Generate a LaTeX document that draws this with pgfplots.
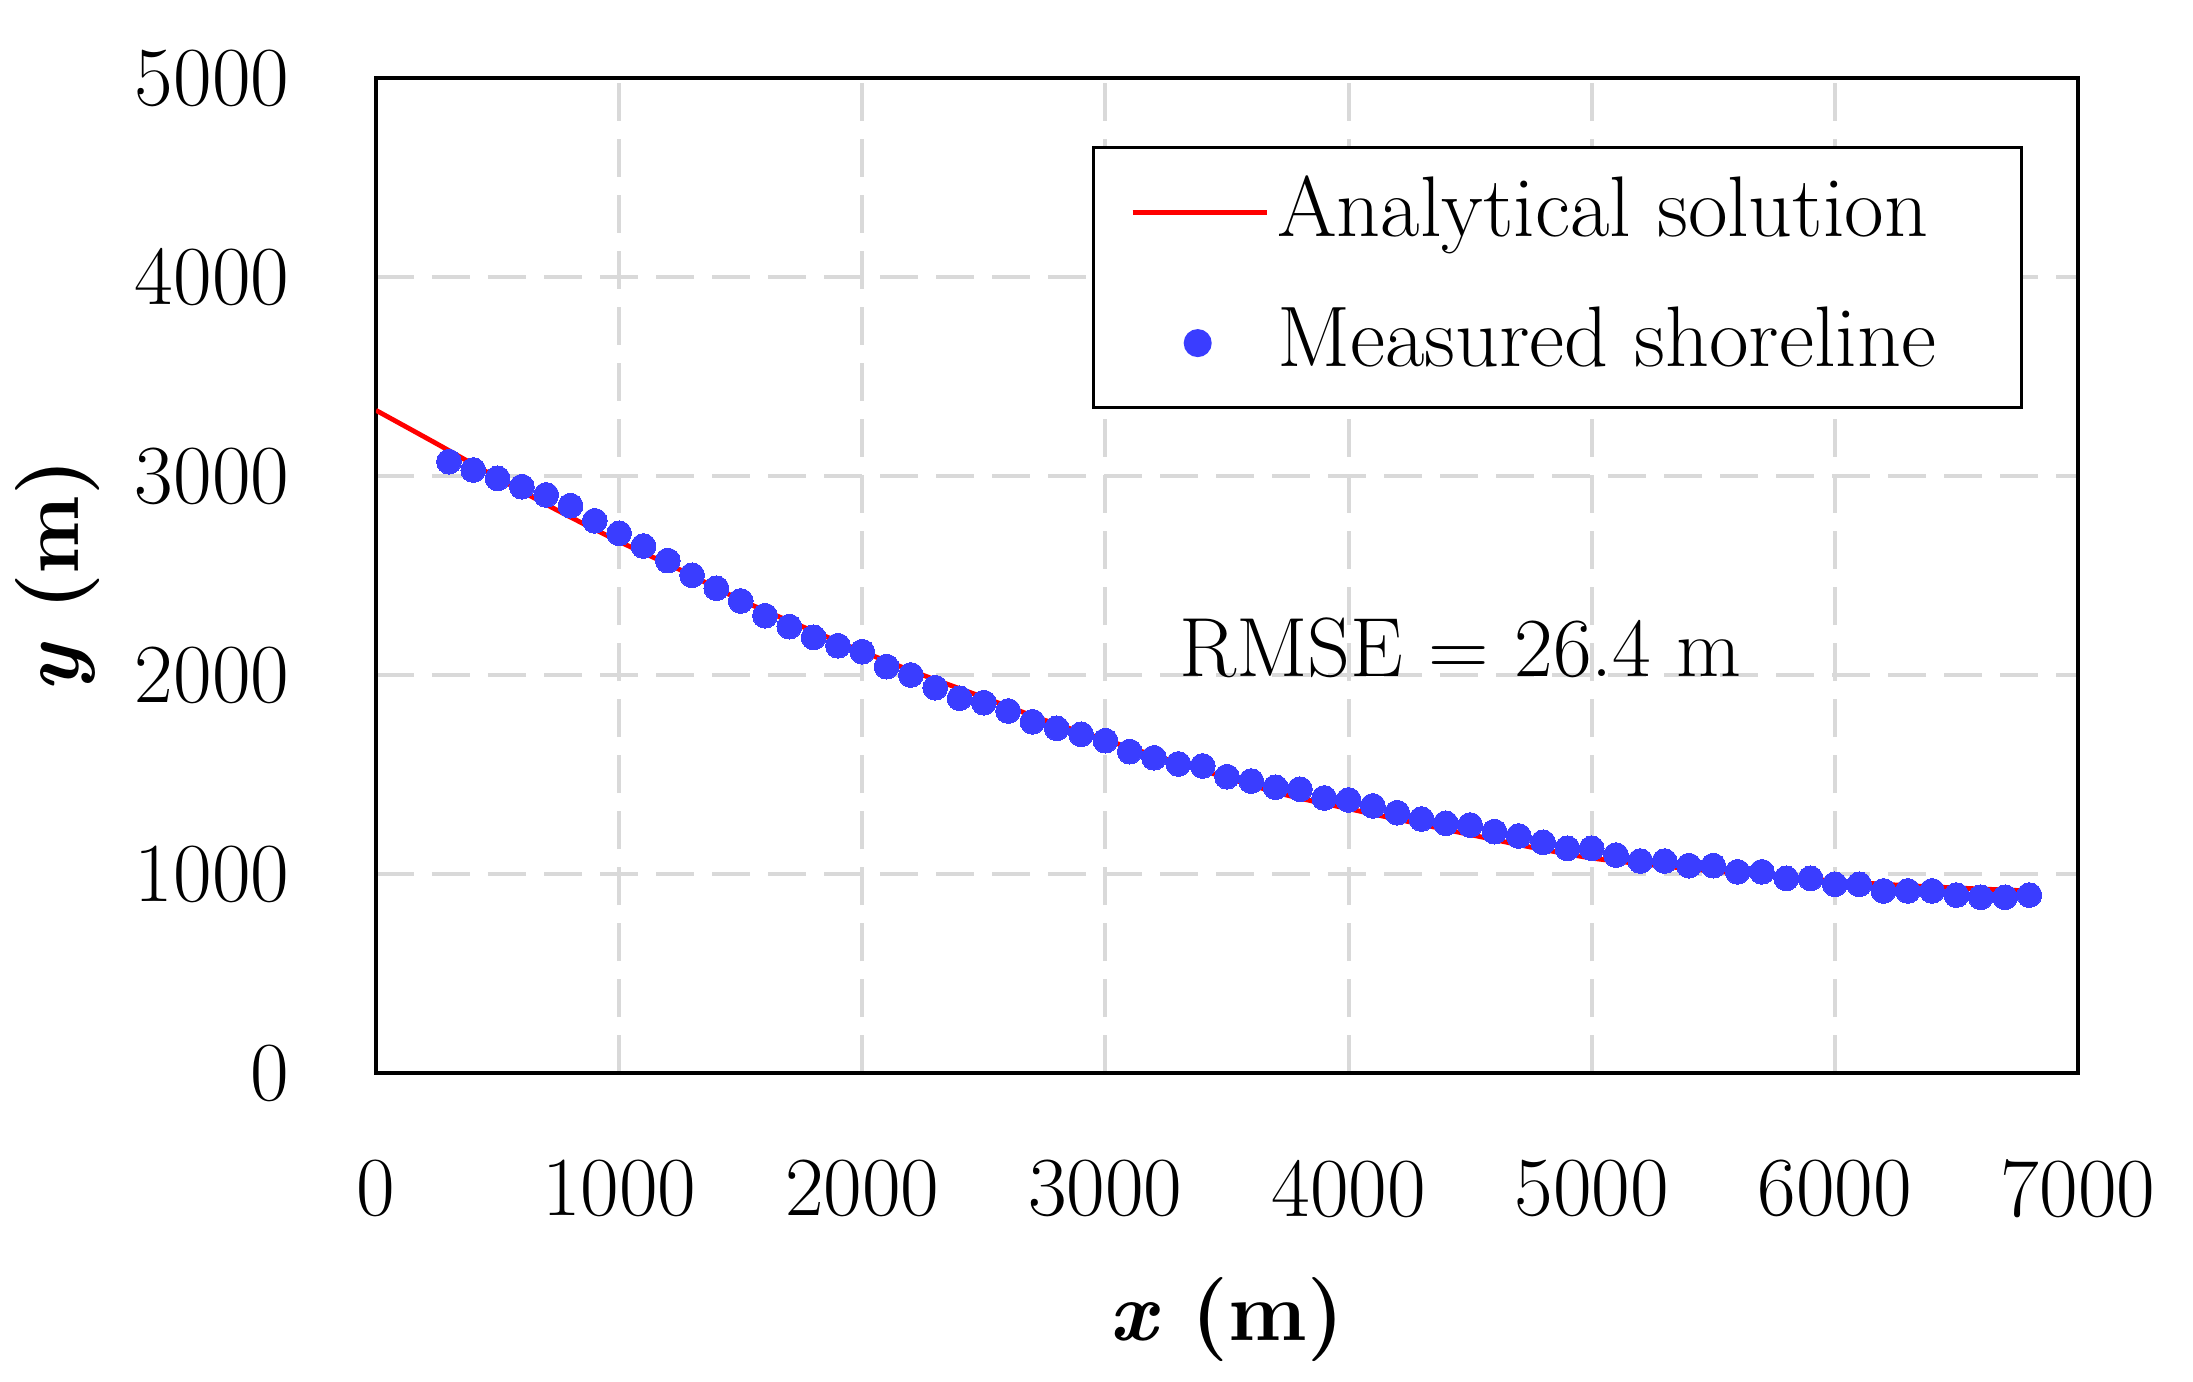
\documentclass[border=0pt]{standalone}
\usepackage{fontspec}
\usepackage{pgfplots}
\pgfplotsset{compat=1.18}
\definecolor{dotblue}{RGB}{58,61,255}
\definecolor{gridgray}{RGB}{217,217,217}
\pgfplotstableread{
x y
0 3330
250 3162
500 2990
750 2825
1000 2671
1250 2529
1500 2377
1750 2245
2000 2118
2250 1999
2500 1887
2750 1773
3000 1674
3250 1577
3500 1483
3750 1395
4000 1328
4250 1262
4500 1198
4750 1135
5000 1080
5250 1045
5500 1015
5750 990
6000 965
6250 945
6500 930
6800 915
}\analytic
\pgfplotstableread{
x y
300 3072
400 3030
500 2988
600 2946
700 2905
800 2851
900 2775
1000 2712
1100 2648
1200 2575
1300 2501
1400 2436
1500 2372
1600 2298
1700 2243
1800 2189
1900 2147
2000 2117
2100 2042
2200 2000
2300 1936
2400 1883
2500 1861
2600 1819
2700 1765
2800 1732
2900 1702
3000 1670
3100 1615
3200 1584
3300 1553
3400 1543
3500 1489
3600 1467
3700 1436
3800 1426
3900 1382
4000 1372
4100 1342
4200 1308
4300 1276
4400 1255
4500 1246
4600 1213
4700 1191
4800 1159
4900 1129
5000 1129
5100 1095
5200 1065
5300 1065
5400 1042
5500 1042
5600 1011
5700 1011
5800 978
5900 978
6000 948
6100 948
6200 915
6300 915
6400 915
6500 894
6600 883
6700 883
6800 894
}\measured
\pgfplotsset{
  anline/.style={legend image code/.code={\draw[##1] (0pt,0pt) -- (33.5pt,0pt);}},
  andot/.style={legend image code/.code={\path[draw=none,fill=none] (0pt,0pt) -- (33.5pt,0pt);
    \fill[dotblue] (16.25pt,0pt) circle[radius=3.1pt];}},
}
\begin{document}
\fontsize{21}{25}\selectfont
\begin{tikzpicture}
\path[use as bounding box] (-94pt,-77pt) rectangle (454.25pt,268.25pt);
\begin{axis}[
  at={(0pt,0pt)}, anchor=south west,
  scale only axis, width=425.5pt, height=248.75pt,
  xmin=0, xmax=7000, ymin=0, ymax=5000,
  xtick={0,1000,...,7000}, ytick={0,1000,...,5000},
  /pgf/number format/assume math mode=true,
  /pgf/number format/1000 sep={},
  major tick length=0pt,
  grid=major,
  grid style={gridgray, line width=1pt, dash pattern=on 9.5pt off 4.5pt},
  axis line style={line width=0.8pt},
  tick label style={font=\fontsize{21}{25}\selectfont},
  yticklabel style={xshift=-14.5pt},
  xticklabel style={yshift=-14.5pt},
  xlabel={\textbf{\textit{x} (m)}},
  ylabel={\textbf{\textit{y} (m)}},
  label style={font=\fontsize{21}{25}\selectfont},
  xlabel style={at={(axis description cs:0.5,-0.2482)}, anchor=center},
  ylabel style={at={(axis description cs:-0.1869,0.5)}, anchor=center},
  legend cell align=left,
  legend style={at={(axis description cs:0.9677,0.9317)}, anchor=north east,
    draw=black, line width=0.8pt, inner xsep=9.3pt, inner ysep=7pt,
    row sep=14.5pt, column sep=2pt, font=\fontsize{21.5}{26}\selectfont,
    nodes={inner sep=0pt}},
]
\addplot[red, line width=1.2pt, smooth, anline]
  table[x=x,y=y] {\analytic};
\addlegendentry{Analytical solution\hspace*{12pt}}
\addplot[only marks, mark=*, mark size=3.1pt, color=dotblue,
  mark options={fill=dotblue, draw=dotblue, line width=0pt}, andot]
  table[x=x,y=y] {\measured};
\addlegendentry{Measured shoreline\hspace*{12pt}}
\node[anchor=center, font=\fontsize{21}{25}\selectfont] at (axis cs:4460,2136) {RMSE = 26.4 m};
\end{axis}
\end{tikzpicture}
\end{document}
